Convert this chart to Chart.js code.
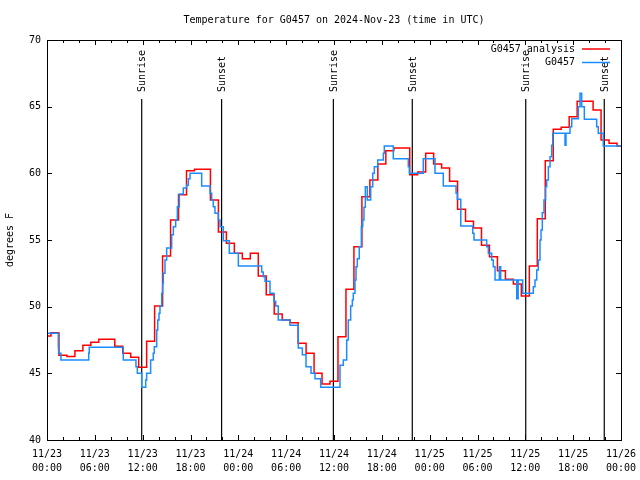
<!DOCTYPE html>
<html>
<head>
<meta charset="utf-8">
<title>Temperature for G0457</title>
<script src="https://cdn.jsdelivr.net/npm/chart.js@4.4.1/dist/chart.umd.min.js"></script>
<style>
  html, body { margin: 0; padding: 0; background: #fff; }
  #wrap { width: 640px; height: 480px; }
</style>
</head>
<body>
<div id="wrap"><canvas id="tempChart" width="640" height="480"></canvas></div>
<script>
const MONO = '"DejaVu Sans Mono", "Liberation Mono", monospace';

// analysis, one value per hour from 11/23 00:00 to 11/26 00:00
const analysisTemps = [
    47.8, 48.05, 46.35, 46.27, 46.7, 47.1, 47.33, 47.55, 47.55, 47.03, 46.5, 46.2,
    45.45, 47.4, 50.05, 53.8, 56.5, 58.4, 60.2, 60.3, 60.3, 58.0, 55.6, 54.75,
    54.0, 53.6, 54.0, 52.3, 50.9, 49.45, 49.0, 48.8, 47.25, 46.5, 45.0, 44.2,
    44.4, 47.75, 51.3, 54.5, 58.25, 59.5, 60.7, 61.7, 61.9, 61.9, 59.9, 60.1,
    61.5, 60.7, 60.4, 59.4, 57.3, 56.4, 55.9, 54.6, 53.75, 52.7, 52.05, 51.7,
    50.8, 53.05, 56.6, 60.95, 63.3, 63.45, 64.25, 65.4, 65.4, 64.75, 62.5, 62.25,
    62.05
];

// station observations: hours since 11/23 00:00 and reading
const obsHours = [
    0, 1.42, 1.45, 1.75, 5.23, 5.3, 9.57, 11.16, 11.33, 11.88, 12.38, 12.5,
    13.0, 13.33, 13.46, 13.76, 13.89, 14.05, 14.17, 14.39, 14.51, 14.59, 14.8, 15.01,
    15.64, 15.85, 16.14, 16.35, 16.6, 17.1, 17.52, 17.73, 17.94, 19.4, 20.45, 20.66,
    20.86, 21.07, 21.49, 21.7, 22.12, 22.87, 24.0, 26.93, 27.13, 27.35, 27.97, 28.47,
    28.69, 29.01, 30.48, 31.52, 32.03, 32.49, 33.12, 33.62, 34.33, 36.75, 37.17, 37.59,
    37.79, 38.09, 38.3, 38.42, 38.63, 38.76, 38.92, 39.17, 39.43, 39.6, 39.76, 39.93,
    40.18, 40.6, 40.86, 41.06, 41.48, 42.19, 42.31, 43.44, 45.32, 45.45, 47.2, 48.67,
    49.71, 51.31, 51.47, 51.9, 53.4, 53.56, 55.15, 55.36, 55.78, 55.98, 56.2, 56.74,
    56.91, 58.92, 59.1, 59.67, 61.0, 61.21, 61.43, 61.63, 61.84, 61.97, 62.13, 62.34,
    62.55, 62.68, 62.89, 63.1, 63.31, 63.44, 64.98, 65.1, 65.6, 65.82, 66.65, 66.86,
    67.07, 67.4, 68.95, 69.15, 69.78, 72
];
const obsTemps = [
    48.0, 47.0, 46.5, 46.0, 46.5, 46.95, 46.0, 45.5, 45.0, 43.95, 44.5, 45.0,
    46.0, 46.5, 47.0, 48.25, 49.0, 49.5, 50.05, 51.0, 51.75, 52.5, 53.5, 54.4,
    55.4, 56.0, 56.5, 57.5, 58.45, 58.9, 59.1, 59.6, 60.0, 59.05, 58.5, 58.0,
    57.5, 57.0, 56.5, 56.0, 54.95, 54.0, 53.05, 52.6, 52.25, 51.9, 51.0, 50.4,
    50.05, 49.0, 48.6, 46.9, 46.4, 45.5, 45.0, 44.6, 43.95, 45.6, 46.0, 47.5,
    49.0, 50.05, 50.5, 51.0, 52.0, 53.0, 53.6, 54.5, 56.0, 56.5, 57.45, 59.0,
    58.0, 59.0, 60.0, 60.5, 61.0, 61.5, 62.05, 61.1, 60.5, 60.0, 61.1, 60.0,
    59.05, 58.5, 58.05, 56.05, 55.5, 55.0, 54.5, 54.0, 53.5, 53.0, 52.0, 53.0,
    52.0, 50.6, 52.0, 51.0, 51.5, 52.0, 52.75, 53.5, 55.0, 55.75, 57.05, 58.0,
    59.0, 59.5, 60.5, 61.25, 62.1, 63.0, 62.1, 63.0, 63.5, 64.1, 65.0, 66.0,
    65.0, 64.05, 63.5, 63.0, 62.05, 62.05
];

const xTickLabels = [
    ['11/23', '00:00'], ['11/23', '06:00'], ['11/23', '12:00'], ['11/23', '18:00'],
    ['11/24', '00:00'], ['11/24', '06:00'], ['11/24', '12:00'], ['11/24', '18:00'],
    ['11/25', '00:00'], ['11/25', '06:00'], ['11/25', '12:00'], ['11/25', '18:00'],
    ['11/26', '00:00']
];

const sunHours = [11.88, 21.9, 35.92, 45.82, 60.05, 69.9];
const sunLabels = ['Sunrise', 'Sunset', 'Sunrise', 'Sunset', 'Sunrise', 'Sunset'];

const ANALYSIS_RED = '#ff0000';
const OBS_BLUE = '#1a8cff';


// box, inward ticks, sunrise/sunset markers and the legend
const decorations = {
    id: 'decorations',
    beforeDatasetsDraw(chart) {
        const {ctx, chartArea: a, scales: {x}} = chart;
        ctx.save();
        ctx.strokeStyle = '#000';
        ctx.fillStyle = '#000';
        ctx.lineWidth = 1.2;
        ctx.font = '10px ' + MONO;
        sunHours.forEach((h, i) => {
            const px = x.getPixelForValue(h);
            ctx.beginPath();
            ctx.moveTo(px, 99);
            ctx.lineTo(px, a.bottom);
            ctx.stroke();

            ctx.save();
            ctx.translate(px + 1, 92);
            ctx.rotate(-Math.PI / 2);
            ctx.textAlign = 'left';
            ctx.textBaseline = 'middle';
            ctx.fillText(sunLabels[i], 0, 0);
            ctx.restore();
        });
        ctx.restore();
    },
    afterDatasetsDraw(chart) {
        const {ctx, chartArea: a, scales: {x, y}} = chart;
        ctx.save();
        ctx.strokeStyle = '#000';
        ctx.lineWidth = 1;

        ctx.beginPath();
        x.ticks.forEach(t => {
            const px = Math.round(x.getPixelForValue(t.value)) + 0.5;
            const len = t.value % 6 === 0 ? 5 : 3;
            ctx.moveTo(px, a.bottom);
            ctx.lineTo(px, a.bottom - len);
            ctx.moveTo(px, a.top);
            ctx.lineTo(px, a.top + len);
        });
        y.ticks.forEach(t => {
            const py = Math.round(y.getPixelForValue(t.value)) + 0.5;
            ctx.moveTo(a.left, py);
            ctx.lineTo(a.left + 5, py);
            ctx.moveTo(a.right, py);
            ctx.lineTo(a.right - 5, py);
        });
        ctx.stroke();
        ctx.strokeRect(a.left + 0.5, a.top + 0.5, a.right - a.left, a.bottom - a.top);

        // legend: text right aligned, line sample to the right
        ctx.font = '10px ' + MONO;
        ctx.textAlign = 'right';
        ctx.textBaseline = 'middle';
        ctx.fillStyle = '#000';
        chart.data.datasets.forEach((ds, i) => {
            const ly = 49 + i * 13.5;
            ctx.fillText(ds.label, 575, ly);
            ctx.strokeStyle = ds.borderColor;
            ctx.lineWidth = 1.5;
            ctx.beginPath();
            ctx.moveTo(582, ly);
            ctx.lineTo(610, ly);
            ctx.stroke();
        });
        ctx.restore();
    }
};


new Chart(document.getElementById('tempChart'), {
    type: 'line',
    data: {
        datasets: [{
            label: 'G0457 analysis',
            data: analysisTemps.map((v, i) => ({x: i, y: v})),
            borderColor: ANALYSIS_RED,
            borderWidth: 1.5,
            stepped: 'middle',
            pointRadius: 0,
            order: 2
        }, {
            label: 'G0457',
            data: obsHours.map((h, i) => ({x: h, y: obsTemps[i]})),
            borderColor: OBS_BLUE,
            borderWidth: 1.5,
            stepped: 'before',
            pointRadius: 0,
            order: 1
        }]
    },
    options: {
        responsive: false,
        animation: false,
        layout: {
            padding: {top: 0, right: 19, bottom: 0, left: 0}
        },
        plugins: {
            legend: {display: false},
            tooltip: {enabled: false},
            title: {
                display: true,
                fullSize: false,
                text: 'Temperature for G0457 on 2024-Nov-23 (time in UTC)',
                color: '#000',
                font: {family: MONO, size: 10, weight: 'normal', lineHeight: 1.2},
                padding: {top: 14, bottom: 14}
            }
        },
        scales: {
            x: {
                type: 'linear',
                min: 0,
                max: 72,
                grid: {display: false, drawTicks: false},
                border: {display: false},
                ticks: {
                    stepSize: 2,
                    autoSkip: false,
                    maxRotation: 0,
                    padding: 7,
                    color: '#000',
                    font: {family: MONO, size: 10, lineHeight: 1.4},
                    callback: v => v % 6 === 0 ? xTickLabels[v / 6] : ''
                },
                afterFit: s => {
                    s.height = 40;
                    s.paddingLeft = 0;
                    s.paddingRight = 0;
                }
            },
            y: {
                min: 40,
                max: 70,
                grid: {display: false, drawTicks: false},
                border: {display: false},
                ticks: {
                    stepSize: 5,
                    padding: 6,
                    color: '#000',
                    font: {family: MONO, size: 10}
                },
                title: {
                    display: true,
                    text: 'degrees F',
                    color: '#000',
                    font: {family: MONO, size: 10, lineHeight: 1.2},
                    padding: {top: 4, bottom: 0}
                },
                afterFit: s => {
                    s.width = 47;
                    s.paddingTop = 0;
                    s.paddingBottom = 0;
                }
            }
        }
    },
    plugins: [decorations]
});
</script>
</body>
</html>
